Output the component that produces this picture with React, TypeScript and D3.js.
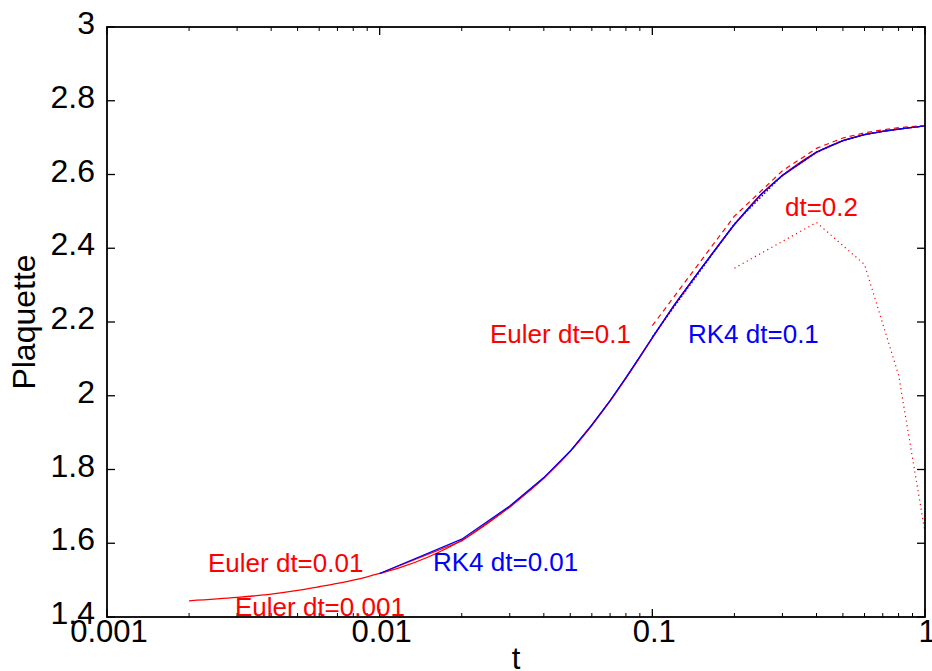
import React from 'react'
import * as d3 from 'd3'

// fine-step curve (Euler dt=0.001)
const tFine = [0.002, 0.003, 0.004, 0.005, 0.006, 0.007, 0.008, 0.009, 0.01, 0.012, 0.015, 0.02, 0.025, 0.03, 0.04, 0.05, 0.06, 0.07, 0.08, 0.09, 0.1, 0.12, 0.15, 0.2, 0.25, 0.3, 0.4, 0.5, 0.6, 0.7, 0.8, 0.9, 1.0]
const eulerDt0001 = [1.444, 1.453, 1.462, 1.472, 1.482, 1.491, 1.500, 1.509, 1.518, 1.535, 1.562, 1.608, 1.655, 1.699, 1.777, 1.849, 1.920, 1.986, 2.048, 2.105, 2.157, 2.244, 2.342, 2.464, 2.545, 2.597, 2.660, 2.692, 2.708, 2.717, 2.723, 2.728, 2.732]

// dt=0.01 runs
const tDt001 = [0.01, 0.02, 0.03, 0.04, 0.05, 0.06, 0.07, 0.08, 0.09, 0.1, 0.12, 0.15, 0.2, 0.25, 0.3, 0.4, 0.5, 0.6, 0.7, 0.8, 0.9, 1.0]
const eulerDt001 = [1.518, 1.606, 1.698, 1.776, 1.849, 1.920, 1.986, 2.048, 2.105, 2.157, 2.244, 2.342, 2.464, 2.545, 2.597, 2.660, 2.692, 2.708, 2.717, 2.723, 2.728, 2.732]
const rk4Dt001 = [1.518, 1.611, 1.701, 1.778, 1.850, 1.921, 1.987, 2.049, 2.106, 2.158, 2.245, 2.343, 2.465, 2.546, 2.598, 2.661, 2.692, 2.708, 2.717, 2.723, 2.728, 2.732]

// dt=0.1 runs
const tDt01 = [0.1, 0.2, 0.3, 0.4, 0.5, 0.6, 0.7, 0.8, 0.9, 1.0]
const eulerDt01 = [2.190, 2.487, 2.610, 2.671, 2.699, 2.713, 2.721, 2.727, 2.730, 2.733]
const rk4Dt01 = [2.160, 2.466, 2.598, 2.661, 2.692, 2.708, 2.717, 2.723, 2.728, 2.732]

// dt=0.2 run
const tDt02 = [0.2, 0.4, 0.6, 0.8, 1.0]
const eulerDt02 = [2.346, 2.470, 2.356, 2.056, 1.630]

const xMajor = [0.001, 0.01, 0.1, 1]
const xMajorLabels = ['0.001', '0.01', '0.1', '1']
const yTicks = [1.4, 1.6, 1.8, 2, 2.2, 2.4, 2.6, 2.8, 3]
const yTickLabels = ['1.4', '1.6', '1.8', '2', '2.2', '2.4', '2.6', '2.8', '3']

const W = 932
const H = 671
const margin = { top: 27, right: 7, bottom: 54, left: 107 }
const font = '"Liberation Sans", Arial, sans-serif'

export default function App() {
  const innerW = W - margin.left - margin.right
  const innerH = H - margin.top - margin.bottom

  const x = d3.scaleLog().domain([0.001, 1]).range([0, innerW])
  const y = d3.scaleLinear().domain([1.4, 3]).range([innerH, 0])

  const xMinor: number[] = []
  for (const dec of [0.001, 0.01, 0.1]) {
    for (let k = 2; k <= 9; k++) xMinor.push(dec * k)
  }

  const smooth = d3.line<[number, number]>().x(d => x(d[0])).y(d => y(d[1])).curve(d3.curveMonotoneX)
  const straight = d3.line<[number, number]>().x(d => x(d[0])).y(d => y(d[1]))
  const pts = (ts: number[], vs: number[]) => ts.map((t, i) => [t, vs[i]] as [number, number])

  const series = [
    { d: smooth(pts(tFine, eulerDt0001)), color: '#ff0000', dash: undefined, w: 1.3 },
    { d: straight(pts(tDt001, eulerDt001)), color: '#ff0000', dash: undefined, w: 1.3 },
    { d: straight(pts(tDt001, rk4Dt001)), color: '#0000ff', dash: undefined, w: 1.3 },
    { d: straight(pts(tDt01, eulerDt01)), color: '#ff0000', dash: '5,4', w: 1.2 },
    { d: straight(pts(tDt01, rk4Dt01)), color: '#0000ff', dash: '1.5,2', w: 1.4 },
    { d: straight(pts(tDt02, eulerDt02)), color: '#ff0000', dash: '1.2,3.5', w: 1.2 },
  ]

  const labels = [
    { text: 'Euler dt=0.1', x: 490, y: 343, color: '#ff0000' },
    { text: 'RK4 dt=0.1', x: 688, y: 343, color: '#0000ff' },
    { text: 'dt=0.2', x: 785, y: 216, color: '#ff0000' },
    { text: 'Euler dt=0.01', x: 208, y: 572, color: '#ff0000' },
    { text: 'RK4 dt=0.01', x: 433, y: 571, color: '#0000ff' },
    { text: 'Euler dt=0.001', x: 235, y: 616, color: '#ff0000' },
  ]

  return (
    <svg width={W} height={H} style={{ position: 'absolute', left: 0, top: 0, background: '#fff' }} fontFamily={font}>
      <g transform={`translate(${margin.left},${margin.top})`}>
        {series.map((s, i) => (
          <path key={i} d={s.d ?? ''} fill="none" stroke={s.color} strokeWidth={s.w} strokeDasharray={s.dash} />
        ))}

        {/* ticks, inward on all four sides */}
        {xMinor.map((t, i) => (
          <g key={`xm${i}`} stroke="#000" strokeWidth={1}>
            <line x1={x(t)} x2={x(t)} y1={innerH} y2={innerH - 4} />
            <line x1={x(t)} x2={x(t)} y1={0} y2={4} />
          </g>
        ))}
        {xMajor.map((t, i) => (
          <g key={`xM${i}`} stroke="#000" strokeWidth={1.3}>
            <line x1={x(t)} x2={x(t)} y1={innerH} y2={innerH - 8} />
            <line x1={x(t)} x2={x(t)} y1={0} y2={8} />
          </g>
        ))}
        {yTicks.map((v, i) => (
          <g key={`y${i}`} stroke="#000" strokeWidth={1.3}>
            <line x1={0} x2={8} y1={y(v)} y2={y(v)} />
            <line x1={innerW} x2={innerW - 8} y1={y(v)} y2={y(v)} />
          </g>
        ))}

        <rect x={0} y={0} width={innerW} height={innerH} fill="none" stroke="#000" strokeWidth={1.8} />

        {labels.map((l, i) => (
          <text key={`l${i}`} x={l.x - margin.left} y={l.y - margin.top} fill={l.color} fontSize={26}>{l.text}</text>
        ))}

        {yTicks.map((v, i) => (
          <text key={`yl${i}`} x={-12} y={y(v) + 7} textAnchor="end" fontSize={32} fill="#000">{yTickLabels[i]}</text>
        ))}
        {xMajor.map((t, i) => (
          <text key={`xl${i}`} x={x(t) + 2} y={innerH + 25} textAnchor="middle" fontSize={31} fill="#000">{xMajorLabels[i]}</text>
        ))}

        <text x={innerW / 2} y={innerH + 52} textAnchor="middle" fontSize={31} fill="#000">t</text>
        <text transform={`translate(${-72},${innerH / 2}) rotate(-90)`} textAnchor="middle" fontSize={32} fill="#000">Plaquette</text>
      </g>
    </svg>
  )
}
